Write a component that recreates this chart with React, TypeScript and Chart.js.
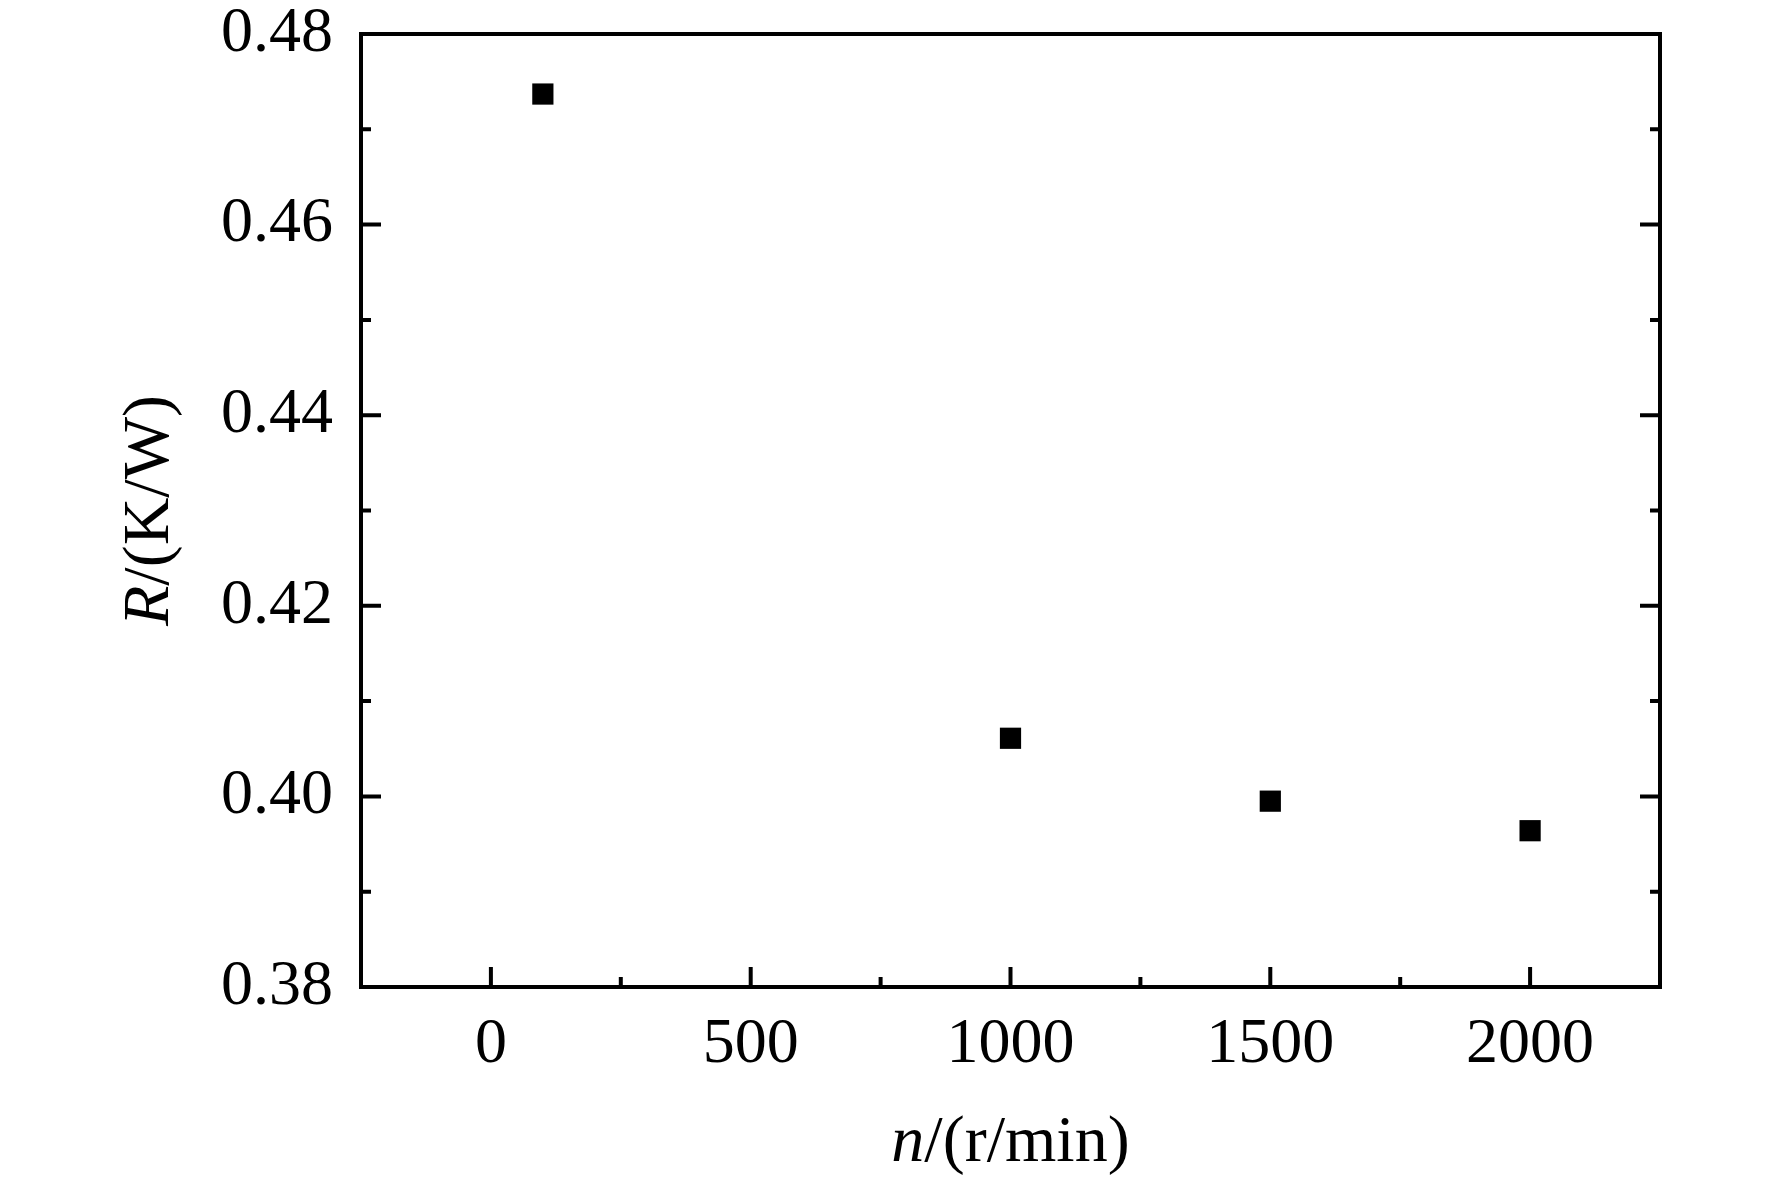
import { useEffect, useRef } from "react";
import Chart from "chart.js/auto";

// rotating speed n (r/min) and thermal resistance R (K/W)
const speeds = [100, 1000, 1500, 2000];
const resistance = [0.4737, 0.4061, 0.3995, 0.3964];

const xTicks = [0, 500, 1000, 1500, 2000];
const xMinor = [250, 750, 1250, 1750];
const yTicks = [0.38, 0.4, 0.42, 0.44, 0.46, 0.48];
const yMinor = [0.39, 0.41, 0.43, 0.45, 0.47];

const FONT = "'Liberation Serif', 'Times New Roman', serif";

// box frame, inward ticks and mixed italic axis titles
const framePlugin = {
  id: "frame",
  afterDraw(chart: any) {
    const { ctx, chartArea: a, scales } = chart;
    const xs = scales.x;
    const ys = scales.y;
    ctx.save();
    ctx.strokeStyle = "#000";
    ctx.lineWidth = 4;
    ctx.lineCap = "butt";

    ctx.beginPath();
    for (const v of xTicks) {
      const px = xs.getPixelForValue(v);
      ctx.moveTo(px, a.bottom);
      ctx.lineTo(px, a.bottom - 20);
    }
    for (const v of xMinor) {
      const px = xs.getPixelForValue(v);
      ctx.moveTo(px, a.bottom);
      ctx.lineTo(px, a.bottom - 10);
    }
    for (const v of yTicks) {
      const py = ys.getPixelForValue(v);
      ctx.moveTo(a.left, py);
      ctx.lineTo(a.left + 20, py);
      ctx.moveTo(a.right, py);
      ctx.lineTo(a.right - 20, py);
    }
    for (const v of yMinor) {
      const py = ys.getPixelForValue(v);
      ctx.moveTo(a.left, py);
      ctx.lineTo(a.left + 10, py);
      ctx.moveTo(a.right, py);
      ctx.lineTo(a.right - 10, py);
    }
    ctx.stroke();

    ctx.lineJoin = "miter";
    ctx.strokeRect(a.left, a.top, a.right - a.left, a.bottom - a.top);

    // axis titles
    ctx.fillStyle = "#000";
    ctx.textBaseline = "alphabetic";
    ctx.textAlign = "left";
    const italic = `italic 66px ${FONT}`;
    const normal = `66px ${FONT}`;

    const drawMixed = (first: string, rest: string, cx: number, baseY: number) => {
      ctx.font = italic;
      const w1 = ctx.measureText(first).width;
      ctx.font = normal;
      const w2 = ctx.measureText(rest).width;
      const start = cx - (w1 + w2) / 2;
      ctx.font = italic;
      ctx.fillText(first, start, baseY);
      ctx.font = normal;
      ctx.fillText(rest, start + w1, baseY);
    };

    drawMixed("n", "/(r/min)", (a.left + a.right) / 2, chart.height - 21);

    ctx.translate(168, (a.top + a.bottom) / 2);
    ctx.rotate(-Math.PI / 2);
    drawMixed("R", "/(K/W)", 0, 0);

    ctx.restore();
  },
};

export default function App() {
  const canvasRef = useRef<HTMLCanvasElement | null>(null);

  useEffect(() => {
    document.body.style.margin = "0";
    if (!canvasRef.current) return;

    const chart = new Chart(canvasRef.current, {
      type: "scatter",
      data: {
        datasets: [
          {
            label: "R",
            data: speeds.map((n, i) => ({ x: n, y: resistance[i] })),
            pointStyle: "rect",
            pointRadius: 15,
            pointHoverRadius: 15,
            backgroundColor: "#000",
            borderColor: "#000",
            borderWidth: 0,
          },
        ],
      },
      options: {
        animation: false,
        responsive: true,
        maintainAspectRatio: false,
        layout: { padding: { top: 34, right: 112, left: 0, bottom: 0 } },
        plugins: {
          legend: { display: false },
          tooltip: { enabled: false },
        },
        scales: {
          x: {
            type: "linear",
            min: -250,
            max: 2250,
            grid: { display: false, drawTicks: false },
            border: { display: false },
            afterBuildTicks: (scale: any) => {
              scale.ticks = xTicks.map((v) => ({ value: v }));
            },
            afterFit: (scale: any) => {
              scale.height = 195;
              scale.paddingLeft = 0;
              scale.paddingRight = 0;
            },
            ticks: {
              padding: 26,
              color: "#000",
              font: { family: FONT, size: 64, lineHeight: 1 },
              callback: (v: any) => String(v),
            },
          },
          y: {
            type: "linear",
            min: 0.38,
            max: 0.48,
            grid: { display: false, drawTicks: false },
            border: { display: false },
            afterBuildTicks: (scale: any) => {
              scale.ticks = yTicks.map((v) => ({ value: v }));
            },
            afterFit: (scale: any) => {
              scale.width = 361;
              scale.paddingTop = 0;
              scale.paddingBottom = 0;
            },
            ticks: {
              padding: 28,
              color: "#000",
              font: { family: FONT, size: 64, lineHeight: 1 },
              callback: (v: any) => Number(v).toFixed(2),
            },
          },
        },
      },
      plugins: [framePlugin],
    });

    return () => chart.destroy();
  }, []);

  return (
    <div style={{ width: 1772, height: 1182, background: "#fff" }}>
      <canvas ref={canvasRef} />
    </div>
  );
}
